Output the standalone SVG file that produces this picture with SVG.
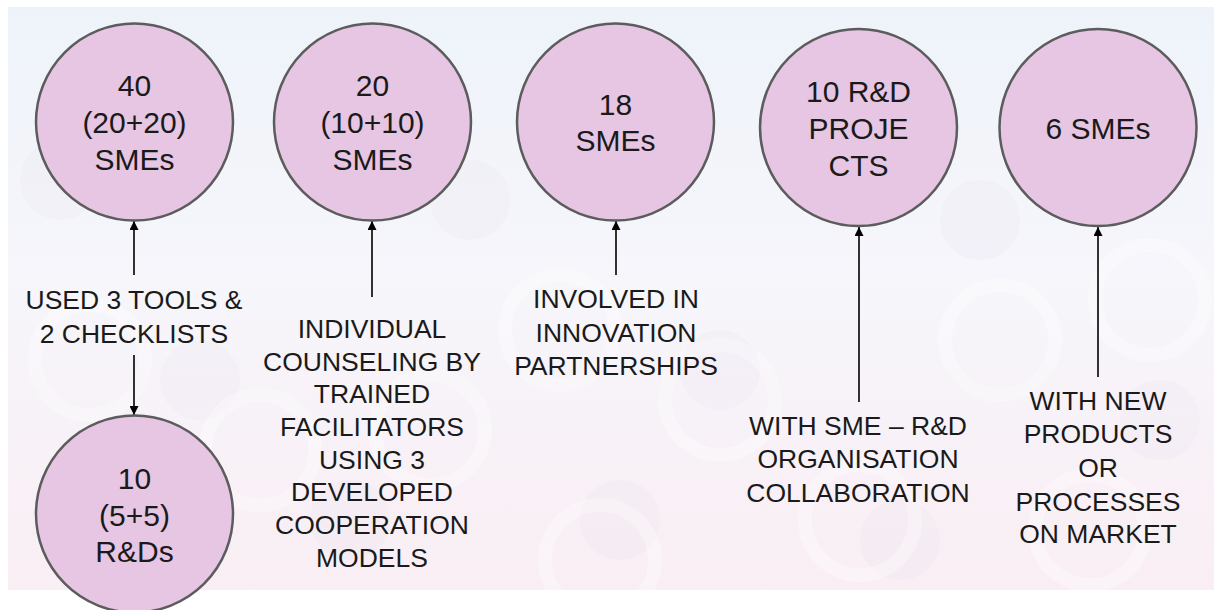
<svg xmlns="http://www.w3.org/2000/svg" width="1214" height="610" viewBox="0 0 1214 610">
  <defs>
    <linearGradient id="bg" x1="0" y1="0" x2="0" y2="1">
      <stop offset="0" stop-color="#eef3fa"/>
      <stop offset="0.45" stop-color="#f6f6fb"/>
      <stop offset="1" stop-color="#f9eef4"/>
    </linearGradient>
    <marker id="arr" viewBox="0 0 10 10" refX="10" refY="5" markerWidth="9" markerHeight="9" markerUnits="userSpaceOnUse" orient="auto">
      <path d="M0,0 L10,5 L0,10 Z" fill="#000"/>
    </marker>
    <style>
      .node circle { fill: #e6c6e3; stroke: #5c5c5c; stroke-width: 2.5; }
      .ntext { font-family: "Liberation Sans", Arial, sans-serif; font-size: 30px; fill: #1a1a1a; text-anchor: middle; }
      .ltext { font-family: "Liberation Sans", Arial, sans-serif; font-size: 26.5px; fill: #1a1a1a; text-anchor: middle; }
      .conn line { stroke: #000; stroke-width: 1.6; marker-end: url(#arr); }
      .deco circle { fill: none; stroke: #ffffff; stroke-width: 14; opacity: 0.3; }
      .deco2 circle { fill: #ebe5f1; opacity: 0.25; }
    </style>
  </defs>

  <rect x="0" y="0" width="1214" height="610" fill="#ffffff"/>
  <rect x="8" y="7" width="1206" height="583" fill="url(#bg)"/>

  <g class="deco2">
    <circle cx="60" cy="180" r="40"/>
    <circle cx="200" cy="380" r="40"/>
    <circle cx="470" cy="200" r="40"/>
    <circle cx="720" cy="370" r="40"/>
    <circle cx="980" cy="220" r="40"/>
    <circle cx="1160" cy="420" r="40"/>
    <circle cx="350" cy="520" r="40"/>
    <circle cx="620" cy="520" r="40"/>
    <circle cx="900" cy="540" r="40"/>
  </g>
  <g class="deco">
    <circle cx="1000" cy="340" r="55"/>
    <circle cx="1150" cy="300" r="55"/>
    <circle cx="720" cy="400" r="55"/>
    <circle cx="560" cy="330" r="55"/>
    <circle cx="430" cy="430" r="55"/>
    <circle cx="260" cy="450" r="55"/>
    <circle cx="90" cy="360" r="55"/>
    <circle cx="860" cy="520" r="55"/>
    <circle cx="1090" cy="530" r="55"/>
    <circle cx="600" cy="560" r="55"/>
  </g>

  <g class="conn">
    <line x1="134" y1="275" x2="134" y2="221"/>
    <line x1="134" y1="355" x2="134" y2="415"/>
    <line x1="372" y1="297" x2="372" y2="221"/>
    <line x1="616" y1="275" x2="616" y2="221"/>
    <line x1="859" y1="402" x2="859" y2="227"/>
    <line x1="1098" y1="377" x2="1098" y2="227"/>
  </g>

  <g id="n1" class="node">
    <circle cx="134.5" cy="122" r="98.5"/>
    <text class="ntext" x="134.5" y="96">40</text>
    <text class="ntext" x="134.5" y="133">(20+20)</text>
    <text class="ntext" x="134.5" y="170">SMEs</text>
  </g>
  <g id="n2" class="node">
    <circle cx="372.5" cy="122" r="98.5"/>
    <text class="ntext" x="372.5" y="96">20</text>
    <text class="ntext" x="372.5" y="133">(10+10)</text>
    <text class="ntext" x="372.5" y="170">SMEs</text>
  </g>
  <g id="n3" class="node">
    <circle cx="615.5" cy="122" r="98.5"/>
    <text class="ntext" x="615.5" y="115">18</text>
    <text class="ntext" x="615.5" y="151">SMEs</text>
  </g>
  <g id="n4" class="node">
    <circle cx="858.5" cy="127.5" r="98.5"/>
    <text class="ntext" x="858.5" y="102">10 R&amp;D</text>
    <text class="ntext" x="858.5" y="139">PROJE</text>
    <text class="ntext" x="858.5" y="176">CTS</text>
  </g>
  <g id="n5" class="node">
    <circle cx="1098" cy="127.5" r="98.5"/>
    <text class="ntext" x="1098" y="139">6 SMEs</text>
  </g>
  <g id="n6" class="node">
    <circle cx="134.5" cy="514" r="98.5"/>
    <text class="ntext" x="134.5" y="489">10</text>
    <text class="ntext" x="134.5" y="526">(5+5)</text>
    <text class="ntext" x="134.5" y="562">R&amp;Ds</text>
  </g>

  <g id="l1">
    <text class="ltext" x="134" y="309">USED 3 TOOLS &amp;</text>
    <text class="ltext" x="134" y="343">2 CHECKLISTS</text>
  </g>
  <g id="l2">
    <text class="ltext" x="372" y="338">INDIVIDUAL</text>
    <text class="ltext" x="372" y="371">COUNSELING BY</text>
    <text class="ltext" x="372" y="403">TRAINED</text>
    <text class="ltext" x="372" y="436">FACILITATORS</text>
    <text class="ltext" x="372" y="469">USING 3</text>
    <text class="ltext" x="372" y="501">DEVELOPED</text>
    <text class="ltext" x="372" y="534">COOPERATION</text>
    <text class="ltext" x="372" y="567">MODELS</text>
  </g>
  <g id="l3">
    <text class="ltext" x="616" y="308">INVOLVED IN</text>
    <text class="ltext" x="616" y="342">INNOVATION</text>
    <text class="ltext" x="616" y="375">PARTNERSHIPS</text>
  </g>
  <g id="l4">
    <text class="ltext" x="858" y="435">WITH SME – R&amp;D</text>
    <text class="ltext" x="858" y="468">ORGANISATION</text>
    <text class="ltext" x="858" y="502">COLLABORATION</text>
  </g>
  <g id="l5">
    <text class="ltext" x="1098" y="410">WITH NEW</text>
    <text class="ltext" x="1098" y="443">PRODUCTS</text>
    <text class="ltext" x="1098" y="477">OR</text>
    <text class="ltext" x="1098" y="511">PROCESSES</text>
    <text class="ltext" x="1098" y="543">ON MARKET</text>
  </g>
</svg>
